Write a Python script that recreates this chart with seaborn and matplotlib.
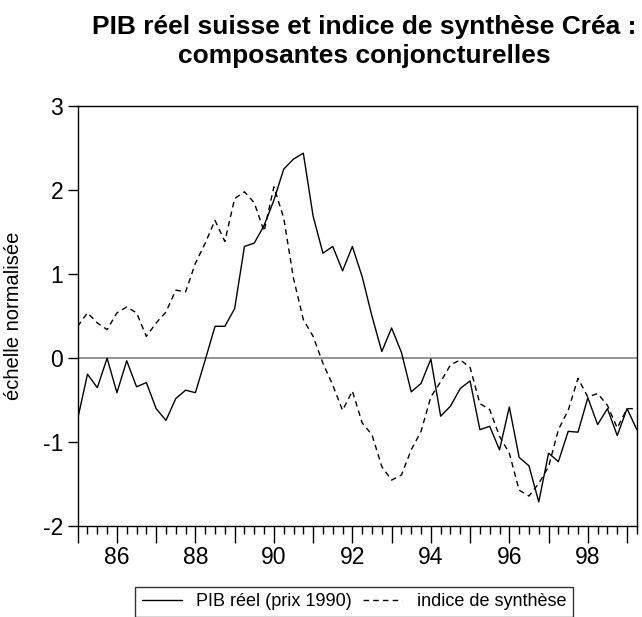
import seaborn as sns
import matplotlib.pyplot as plt
import numpy as np
import pandas as pd

# quarterly data, 1985Q1 - 1999Q2
pib = [-0.72, -0.19, -0.35, 0.00, -0.41, -0.03, -0.34, -0.29, -0.60, -0.74,
       -0.48, -0.38, -0.41, -0.02, 0.38, 0.38, 0.59, 1.33, 1.37, 1.58,
       1.88, 2.25, 2.37, 2.44, 1.69, 1.25, 1.33, 1.04, 1.33, 0.97,
       0.50, 0.08, 0.36, 0.07, -0.40, -0.30, -0.01, -0.69, -0.57, -0.36,
       -0.27, -0.85, -0.81, -1.09, -0.58, -1.18, -1.28, -1.71, -1.13, -1.23,
       -0.87, -0.88, -0.47, -0.79, -0.60, -0.92, -0.60, -0.85]
indice = [0.38, 0.54, 0.42, 0.34, 0.54, 0.61, 0.54, 0.26, 0.42, 0.55,
          0.81, 0.79, 1.13, 1.37, 1.64, 1.39, 1.90, 1.98, 1.85, 1.51,
          2.04, 1.67, 0.95, 0.46, 0.26, -0.06, -0.32, -0.62, -0.39, -0.77,
          -0.91, -1.29, -1.45, -1.39, -1.09, -0.87, -0.46, -0.28, -0.08, -0.02,
          -0.11, -0.54, -0.61, -0.93, -1.13, -1.57, -1.64, -1.49, -1.29, -0.85,
          -0.62, -0.24, -0.46, -0.42, -0.56, -0.83, -0.60, -0.60]
years = 85 + np.arange(len(pib)) / 4

df = pd.DataFrame({"t": years, "pib": pib, "indice": indice})

sns.set_style("ticks")
plt.rcParams["font.family"] = ["Liberation Sans", "DejaVu Sans"]
plt.rcParams["axes.unicode_minus"] = False
for k in ["text.color", "axes.labelcolor", "xtick.color", "ytick.color"]:
    plt.rcParams[k] = "black"

fig = plt.figure(figsize=(6.42, 6.17), dpi=100)
ax = fig.add_axes([0.121, 0.147, 0.871, 0.681])

ax.axhline(0, color="#808080", lw=1.2, zorder=1)
sns.lineplot(data=df, x="t", y="pib", ax=ax, color="black", lw=1,
             label="PIB réel (prix 1990)")
sns.lineplot(data=df, x="t", y="indice", ax=ax, color="black", lw=1,
             linestyle=(0, (4, 3)), label="indice de synthèse")

ax.set_xlim(85, 85 + (len(pib) - 1) / 4)
ax.set_ylim(-2, 3)
ax.set_xticks(np.arange(85, 100))
ax.set_xticklabels([str(y) if y % 2 == 0 else "" for y in range(85, 100)])
ax.set_xticks(np.arange(85, 99.3, 0.25), minor=True)
ax.set_yticks([-2, -1, 0, 1, 2, 3])
ax.tick_params(axis="x", which="major", length=12, width=1, labelsize=16.5, pad=2)
ax.tick_params(axis="x", which="minor", length=6, width=1)
ax.tick_params(axis="y", length=7, width=1, labelsize=16.5)
for s in ax.spines.values():
    s.set_color("black")
    s.set_linewidth(1)

ax.set_xlabel("")
ax.set_ylabel("échelle normalisée", fontsize=14.5, labelpad=14)

ax.get_legend().remove()
h, l = ax.get_legend_handles_labels()
leg = fig.legend(h, l, loc="upper center", ncol=2,
                 frameon=True, fancybox=False, edgecolor="black", fontsize=13,
                 handlelength=2.2, columnspacing=0.6, borderpad=0.35,
                 handletextpad=0.8, borderaxespad=0)
leg.get_frame().set_linewidth(1)
leg.set_bbox_to_anchor((354 / 642, 1 - 587 / 617), transform=fig.transFigure)

fig.suptitle("PIB réel suisse et indice de synthèse Créa :\ncomposantes conjoncturelles",
             fontsize=19, fontweight="bold", x=0.567, y=1 - 15 / 617, va="top",
             linespacing=1.25)

fig.savefig("out.png", dpi=100)
